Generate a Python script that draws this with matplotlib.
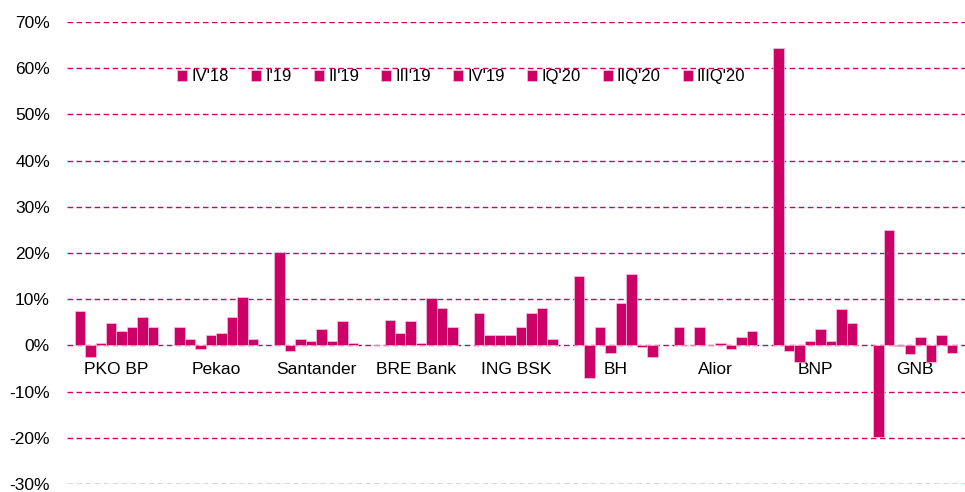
import numpy as np
import matplotlib
matplotlib.use("Agg")
import matplotlib.pyplot as plt
from matplotlib.ticker import PercentFormatter

plt.rcParams['font.family'] = ['Liberation Sans', 'DejaVu Sans']
plt.rcParams['axes.unicode_minus'] = False

banks = ['PKO BP', 'Pekao', 'Santander', 'BRE Bank', 'ING BSK', 'BH', 'Alior', 'BNP', 'GNB']
periods = ["IV'18", "I'19", "II'19", "III'19", "IV'19", "IQ'20", "IIQ'20", "IIIQ'20"]

# one list per bank, values in % for each period
pko = [7.4, -2.4, 0.6, 4.9, 3.1, 4.0, 6.1, 4.0]
pekao = [4.0, 1.4, -0.7, 2.2, 2.7, 6.1, 10.4, 1.4]
santander = [20.2, -1.1, 1.4, 0.9, 3.6, 0.9, 5.3, 0.5]
bre = [0.2, 5.6, 2.7, 5.3, 0.5, 10.3, 8.2, 4.0]
ing = [7.0, 2.2, 2.2, 2.2, 4.0, 7.0, 8.1, 1.4]
bh = [15.1, -7.1, 4.0, -1.6, 9.1, 15.5, -0.3, -2.4]
alior = [4.0, 0.1, 4.0, 0.1, 0.6, -0.7, 1.8, 3.1]
bnp = [64.4, -1.1, -3.6, 0.9, 3.5, 0.9, 7.8, 4.8]
gnb = [-19.7, 24.9, -0.2, -1.9, 1.9, -3.6, 2.3, -1.6]

values = np.array([pko, pekao, santander, bre, ing, bh, alior, bnp, gnb])

color = '#CC0066'

fig = plt.figure(figsize=(9.65, 4.92), dpi=100)
ax = fig.add_axes([0.069, 0.016, 0.931, 0.9395])

x = np.arange(len(banks))
n = len(periods)
w = 0.105
for j in range(n):
    offs = (j - (n - 1) / 2) * w
    ax.bar(x + offs, values[:, j], width=w, color=color, edgecolor='#f3c6dc',
           linewidth=0.5, label=periods[j], zorder=3)

ax.set_ylim(-30, 70)
ax.set_xlim(-0.5, len(banks) - 0.5)
ax.set_yticks(np.arange(-30, 71, 10))
ax.yaxis.set_major_formatter(PercentFormatter(decimals=0))
ax.grid(axis='y', color=color, linestyle=(0, (4, 2.5)), linewidth=1.0, zorder=1)

for s in ['top', 'right', 'left']:
    ax.spines[s].set_visible(False)
ax.spines['bottom'].set_position(('data', 0))
ax.spines['bottom'].set_visible(False)
ax.set_xticks(x)
ax.set_xticklabels(banks, fontsize=12.5)
ax.tick_params(axis='x', length=0, pad=12)
ax.tick_params(axis='y', length=0, pad=12, labelsize=12.5)

ax.legend(loc='upper left', bbox_to_anchor=(0.116, 0.912), ncol=8, frameon=False,
          fontsize=12, handlelength=0.6, handleheight=0.6, handletextpad=0.25,
          columnspacing=1.33, borderaxespad=0)

fig.savefig('out.png', dpi=100)
